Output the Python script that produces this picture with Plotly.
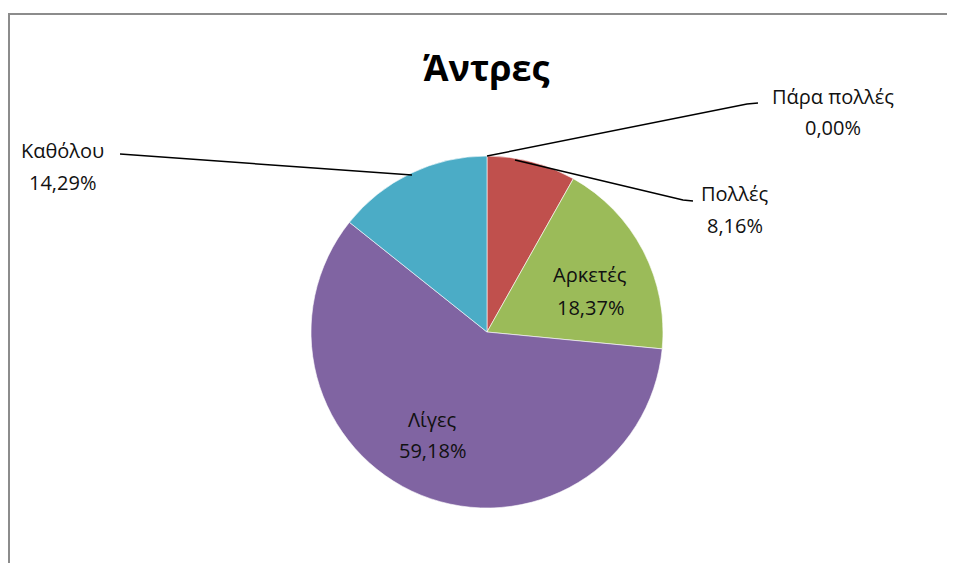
import plotly.graph_objects as go

# ---------------------------------------------------------------------------
# Data
# ---------------------------------------------------------------------------
labels = ["Πάρα πολλές", "Πολλές", "Αρκετές", "Λίγες", "Καθόλου"]
values = [0, 4, 9, 29, 7]
colors = ["#4F81BD", "#C0504D", "#9BBB59", "#8064A2", "#4BACC6"]
title_text = "Άντρες"

W, H = 955, 563
OFF = 8  # default body margin of the html page


def px(x):
    return (x - OFF) / W


def py(y):
    return 1 - (y - OFF) / H


def pct(v):
    return f"{v / sum(values) * 100:.2f}".replace(".", ",")


fig = go.Figure()

# pie centred at (487, 332) with radius ~176 px
fig.add_trace(go.Pie(
    labels=labels, values=values,
    marker=dict(colors=colors, line=dict(color="white", width=0.6)),
    sort=False, direction="clockwise", rotation=0,
    textinfo="none", hoverinfo="label+percent",
    showlegend=False,
    domain=dict(x=[px(311), px(663)], y=[py(508), py(156)]),
))

# label positions (pixel centres) for name / percent lines
label_pos = {
    "Πάρα πολλές": (833, 97, 128),
    "Πολλές": (735, 193, 225),
    "Αρκετές": (590, 274, 307),
    "Λίγες": (432, 419, 450),
    "Καθόλου": (62, 150, 182),
}

font = dict(family="Open Sans, Noto Sans, sans-serif", size=20, color="#111111")
for lab, v in zip(labels, values):
    x, y1, y2 = label_pos[lab]
    fig.add_annotation(x=px(x), y=py(y1), xref="paper", yref="paper",
                       text=lab, showarrow=False, font=font,
                       xanchor="center", yanchor="middle")
    fig.add_annotation(x=px(x), y=py(y2), xref="paper", yref="paper",
                       text=pct(v) + "%", showarrow=False, font=font,
                       xanchor="center", yanchor="middle")

# leader lines for the outside labels
leaders = [
    [(487, 156), (747, 104), (758, 103)],
    [(515, 160), (683, 200), (693, 201)],
    [(412, 175), (300, 167), (120, 154)],
]
for pts in leaders:
    path = "M " + " L ".join(f"{px(a)},{py(b)}" for a, b in pts)
    fig.add_shape(type="path", path=path, xref="paper", yref="paper",
                  line=dict(color="black", width=1.5))

# chart area border
fig.add_shape(type="rect", xref="paper", yref="paper",
              x0=px(9), y0=py(590), x1=px(990), y1=py(14),
              line=dict(color="#8c8c8c", width=2))

fig.add_annotation(x=px(486), y=py(67), xref="paper", yref="paper",
                   text="<b>" + title_text + "</b>", showarrow=False,
                   font=dict(family="Open Sans, Noto Sans, sans-serif", size=36, color="black"),
                   xanchor="center", yanchor="middle")

fig.update_layout(
    width=W, height=H,
    margin=dict(l=0, r=0, t=0, b=0),
    paper_bgcolor="white", plot_bgcolor="white",
)

fig.write_html("out.html")
